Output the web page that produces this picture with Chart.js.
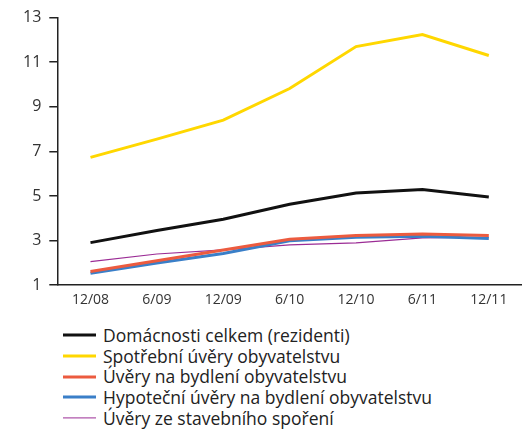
<!DOCTYPE html>
<html>
<head>
<meta charset="utf-8">
<script src="https://cdn.jsdelivr.net/npm/chart.js@4.4.0/dist/chart.umd.min.js"></script>
<style>
  html, body { margin: 0; padding: 0; background: #fff; }
  body { width: 522px; height: 429px; overflow: hidden; position: relative; font-family: "Open Sans", sans-serif; }
  #wrap { position: absolute; left: 0; top: 0; width: 522px; height: 314px; }
  #legend { position: absolute; left: 63px; top: 325px; color: #222; font-size: 17.5px; }
  .row { height: 20.7px; line-height: 20.7px; white-space: nowrap; position: relative; }
  .sample { position: absolute; left: 0; top: 50%; width: 33px; transform: translateY(-50%); }
  .lbl { margin-left: 40px; }
</style>
</head>
<body>
<div id="wrap"><canvas id="chart"></canvas></div>
<div id="legend"></div>
<script>
// periods on the x axis
const periods = ['12/08', '6/09', '12/09', '6/10', '12/10', '6/11', '12/11'];

// series
const domacnosti = [2.91, 3.45, 3.96, 4.63, 5.13, 5.29, 4.95];
const spotrebni = [6.73, 7.55, 8.40, 9.82, 11.70, 12.24, 11.30];
const bydleni = [1.61, 2.10, 2.58, 3.06, 3.23, 3.30, 3.23];
const hypotecni = [1.54, 2.00, 2.42, 2.99, 3.15, 3.20, 3.09];
const stavebni = [2.06, 2.40, 2.58, 2.81, 2.90, 3.12, 3.15];

const yTicks = [1, 3, 5, 7, 9, 11, 13];

const series = [
  { label: 'Domácnosti celkem (rezidenti)', data: domacnosti, color: '#111111', width: 3 },
  { label: 'Spotřební úvěry obyvatelstvu', data: spotrebni, color: '#FFD700', width: 3 },
  { label: 'Úvěry na bydlení obyvatelstvu', data: bydleni, color: '#EC5B3F', width: 3 },
  { label: 'Hypoteční úvěry na bydlení obyvatelstvu', data: hypotecni, color: '#3A7FC8', width: 3 },
  { label: 'Úvěry ze stavebního spoření', data: stavebni, color: '#9B2C95', width: 1.2 }
];

const chart = new Chart(document.getElementById('chart'), {
  type: 'line',
  data: {
    labels: periods,
    datasets: series.map(s => ({
      label: s.label,
      data: s.data,
      borderColor: s.color,
      backgroundColor: s.color,
      borderWidth: s.width,
      pointRadius: 0,
      tension: 0,
      fill: false
    }))
  },
  options: {
    responsive: true,
    maintainAspectRatio: false,
    animation: false,
    layout: { padding: { left: 15, top: 15, right: 0, bottom: 0 } },
    plugins: { legend: { display: false }, tooltip: { enabled: false } },
    scales: {
      x: {
        offset: true,
        grid: { display: false, drawTicks: false },
        border: { display: true, color: '#222', width: 1.5 },
        ticks: { color: '#333', font: { family: 'Open Sans', size: 14 }, padding: 6, maxRotation: 0 }
      },
      y: {
        min: 1,
        max: 13,
        afterBuildTicks: axis => { axis.ticks = yTicks.map(v => ({ value: v })); },
        grid: { drawOnChartArea: false, drawTicks: true, tickLength: 8, color: '#222', lineWidth: 1.5 },
        border: { display: true, color: '#222', width: 1.5 },
        ticks: { color: '#333', font: { family: 'Open Sans', size: 16 }, padding: 8 }
      }
    }
  }
});

// legend, one entry per row
const legend = document.getElementById('legend');
chart.data.datasets.forEach(ds => {
  const row = document.createElement('div');
  row.className = 'row';
  const sample = document.createElement('div');
  sample.className = 'sample';
  sample.style.height = ds.borderWidth + 'px';
  sample.style.background = ds.borderColor;
  const lbl = document.createElement('span');
  lbl.className = 'lbl';
  lbl.textContent = ds.label;
  row.appendChild(sample);
  row.appendChild(lbl);
  legend.appendChild(row);
});
</script>
</body>
</html>
